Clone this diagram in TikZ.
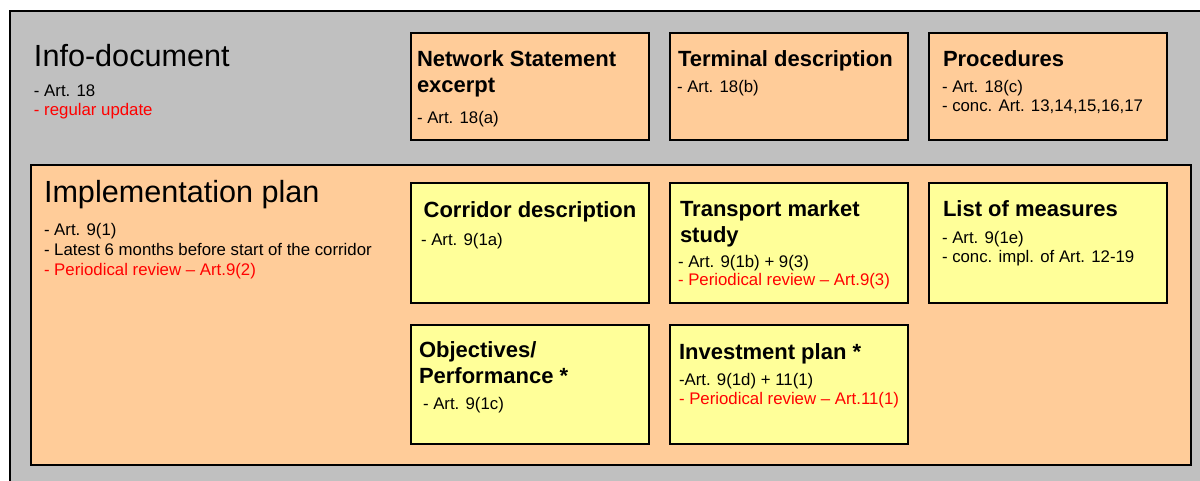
\documentclass[tikz,border=0pt]{standalone}
\usepackage{fontspec}
\setmainfont{Liberation Sans}
\definecolor{greybg}{HTML}{C0C0C0}
\definecolor{orangebg}{HTML}{FFCC99}
\definecolor{yellowbg}{HTML}{FFFF99}
\definecolor{redtxt}{HTML}{FF0000}
\tikzset{
  frame/.style={draw=black, line width=1.1pt, inner sep=0pt, outer sep=0pt, anchor=north west},
  obox/.style={frame, fill=orangebg, minimum width=238pt, minimum height=107pt},
  ybox/.style={frame, fill=yellowbg, minimum width=238pt, minimum height=120pt},
  txt/.style={anchor=base west, inner sep=0pt, outer sep=0pt, font=\fontsize{16.8}{19}\selectfont},
  rtxt/.style={txt, text=redtxt},
  ttl/.style={anchor=base west, inner sep=0pt, outer sep=0pt, font=\bfseries\fontsize{22}{26}\selectfont},
  big/.style={anchor=base west, inner sep=0pt, outer sep=0pt, font=\fontsize{30.6}{36}\selectfont},
}
\begin{document}
\begin{tikzpicture}[x=1pt,y=-1pt]
\useasboundingbox (0,0) rectangle (1200,480);
\clip (0,0) rectangle (1200,480);
\fill[white] (0,0) rectangle (1200,480);
% outer grey panel
\node[frame, fill=greybg, minimum width=1220pt, minimum height=490pt] (info) at (10,11) {};
\node[big] (infot) at (34,66) {Info-document};
\node[txt] (info1) at (34,96) {- Art. 18};
\node[rtxt] (info2) at (34,115) {- regular update};
% top row
\node[obox] (ns) at (411,33) {};
\node[ttl] (nst1) at (417,66) {Network Statement};
\node[ttl] (nst2) at (417,92.5) {excerpt};
\node[txt] (ns1) at (417,123) {- Art. 18(a)};
\node[obox] (td) at (670,33) {};
\node[ttl] (tdt) at (678,66) {Terminal description};
\node[txt] (td1) at (677,92) {- Art. 18(b)};
\node[obox] (pr) at (929,33) {};
\node[ttl] (prt) at (943,66) {Procedures};
\node[txt] (pr1) at (942,92) {- Art. 18(c)};
\node[txt] (pr2) at (942,111) {- conc. Art. 13,14,15,16,17};
% implementation plan
\node[frame, fill=orangebg, minimum width=1160pt, minimum height=300pt] (impl) at (31,165) {};
\node[big] (implt) at (44,202) {Implementation plan};
\node[txt] (impl1) at (44,235) {- Art. 9(1)};
\node[txt] (impl2) at (44,255) {- Latest 6 months before start of the corridor};
\node[rtxt] (impl3) at (44,275) {- Periodical review -- Art.9(2)};
% yellow row 1
\node[ybox] (cd) at (411,183) {};
\node[ttl, anchor=base] (cdt) at (530,217) {Corridor description};
\node[txt] (cd1) at (421,245) {- Art. 9(1a)};
\node[ybox] (tm) at (670,183) {};
\node[ttl] (tmt1) at (680,216) {Transport market};
\node[ttl] (tmt2) at (680,242.5) {study};
\node[txt] (tm1) at (678,267) {- Art. 9(1b) + 9(3)};
\node[rtxt] (tm2) at (678,285) {- Periodical review -- Art.9(3)};
\node[ybox] (lm) at (929,183) {};
\node[ttl] (lmt) at (943,216) {List of measures};
\node[txt] (lm1) at (942,243) {- Art. 9(1e)};
\node[txt] (lm2) at (942,262) {- conc. impl. of Art. 12-19};
% yellow row 2
\node[ybox, minimum height=119pt] (ob) at (411,325) {};
\node[ttl] (obt1) at (419,357) {Objectives/};
\node[ttl] (obt2) at (419,383.5) {Performance *};
\node[txt] (ob1) at (423,409) {- Art. 9(1c)};
\node[ybox, minimum height=119pt] (ip) at (670,325) {};
\node[ttl] (ipt) at (679,359) {Investment plan *};
\node[txt] (ip1) at (679,385) {-Art. 9(1d) + 11(1)};
\node[rtxt] (ip2) at (679,404) {- Periodical review -- Art.11(1)};
\end{tikzpicture}
\end{document}
